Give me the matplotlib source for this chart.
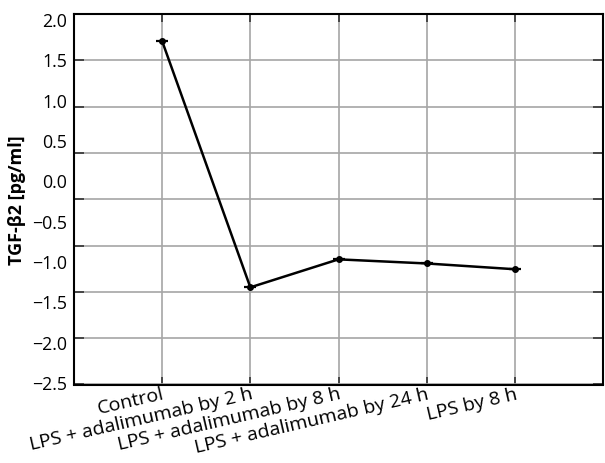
import numpy as np
import matplotlib
matplotlib.use("Agg")
import matplotlib.pyplot as plt

categories = ["Control", "LPS + adalimumab by 2 h", "LPS + adalimumab by 8 h",
              "LPS + adalimumab by 24 h", "LPS by 8 h"]
values = [1.67, -1.32, -0.98, -1.03, -1.10]
ytick_labels = ["2.0", "1.5", "1.0", "0.5", "0.0", "\u22120.5", "\u22121.0",
                "\u22121.5", "\u22122.0", "\u22122.5"]

plt.rcParams['font.family'] = ['Open Sans', 'DejaVu Sans']

fig = plt.figure(figsize=(6.05, 4.64), dpi=100)
ax = fig.add_axes([74/605, 1 - 385.5/464, (603-74)/605, (385.5-15)/464])

x = np.arange(len(categories))
ax.plot(x, values, color='black', lw=1.8, zorder=3)
ax.plot(x, values, ls='none', marker='o', ms=4, color='black', zorder=4)
ax.plot(x, values, ls='none', marker='_', ms=8, mew=1.6, color='black', zorder=4)

ax.set_xlim(-1, len(categories))
ax.set_ylim(-2.5, 2.0)

# gridlines (8 equal intervals) as minor ticks
grid_pos = np.linspace(-2.5, 2.0, 9)
ax.set_yticks(grid_pos, minor=True)
ax.yaxis.grid(True, which='minor', color='#a6a6a6', lw=1.2)
ax.tick_params(axis='y', which='minor', direction='in', length=7, width=1.2,
               color='#333333', left=True, right=True)

# tick labels, evenly spaced
frac = np.linspace(0.9865, 0.0067, len(ytick_labels))
ax.set_yticks(-2.5 + frac * 4.5)
ax.set_yticklabels(ytick_labels, fontsize=12.8)
ax.tick_params(axis='y', which='major', length=0, pad=5)

ax.set_xticks(x)
ax.set_xticklabels(categories, fontsize=14, rotation=13, ha='right',
                   rotation_mode='anchor')
ax.xaxis.grid(True, color='#a6a6a6', lw=1.2)
ax.tick_params(axis='x', direction='in', length=6, width=1.2, color='#333333',
               top=True, bottom=True, pad=0)

for s in ax.spines.values():
    s.set_linewidth(1.5)
    s.set_color('black')
ax.set_axisbelow(True)

ax.set_ylabel("TGF-\u03b22 [pg/ml]", fontsize=13, fontweight='bold', labelpad=4)

fig.savefig("out.png", dpi=100)
